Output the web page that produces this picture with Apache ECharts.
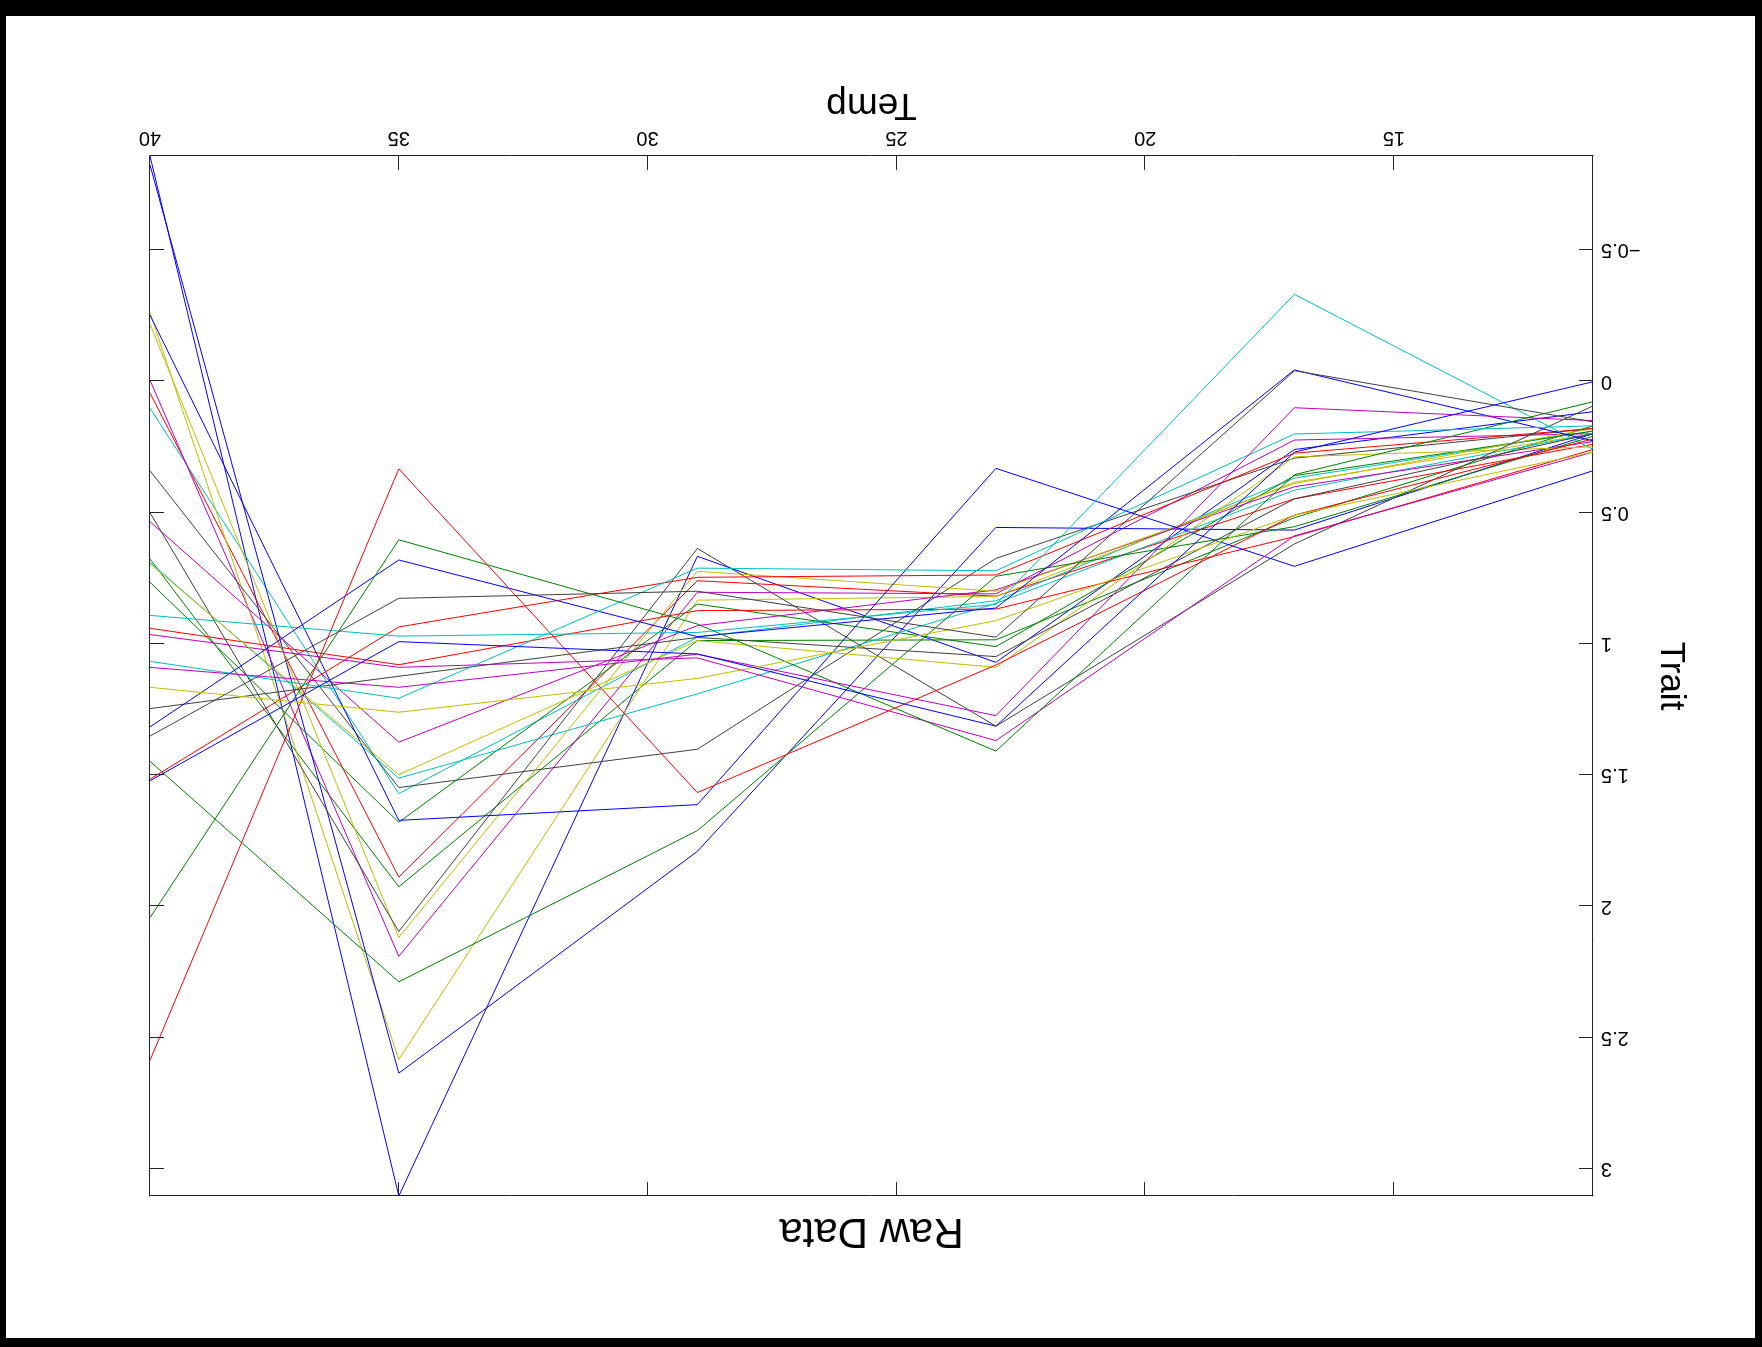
<!DOCTYPE html>
<html>
<head>
<meta charset="utf-8">
<script src="https://cdn.jsdelivr.net/npm/echarts@6/dist/echarts.min.js"></script>
<style>
  html, body { margin: 0; padding: 0; background: #000; width: 1762px; height: 1347px; overflow: hidden; }
  #frame { position: absolute; left: 6px; top: 16px; width: 1749px; height: 1322px; background: #fff; transform: rotate(180deg); }
  #chart { width: 1749px; height: 1322px; }
</style>
</head>
<body>
<div id="frame"><div id="chart"></div></div>
<script>
// Temperatures (x values)
const temps = [40, 35, 29, 23, 17, 11];

// Tick labels
const xTicks = [15, 20, 25, 30, 35, 40];
const yTicks = [-0.5, 0, 0.5, 1, 1.5, 2, 2.5, 3];

// Trait values per line, in the order of temps
const lineB1 = [-0.858, 3.104, 0.667, 1.071, 0.26, 0.116];
const lineG1 = [0.677, 1.926, 0.988, 0.985, 0.52, 0.17];
const lineR1 = [0.045, 1.889, 0.760, 0.819, 0.448, 0.24];
const lineC1 = [0.102, 1.571, 0.975, 0.836, 0.369, 0.19];
const lineM1 = [-0.004, 2.191, 0.804, 0.81, 0.224, 0.20];
const lineY1 = [-0.262, 2.584, 0.834, 0.82, 0.385, 0.20];
const lineK1 = [0.341, 1.548, 1.402, 0.675, 0.293, 0.18];
const lineB2 = [-0.824, 2.636, 1.791, 0.557, 0.567, 0.20];
const lineG2 = [0.766, 1.680, 0.849, 1.011, 0.36, 0.19];
const lineR2 = [0.941, 1.080, 0.874, 0.868, 0.592, 0.26];
const lineC2 = [0.69, 1.512, 1.191, 0.846, 0.415, 0.20];
const lineM2 = [0.535, 1.375, 0.931, 0.795, 0.402, 0.23];
const lineY2 = [-0.218, 2.119, 0.724, 0.80, 0.39, 0.18];
const lineK2 = [0.501, 2.096, 0.637, 1.314, 0.620, 0.094];
const lineB3 = [-0.252, 1.673, 1.613, 0.332, 0.705, 0.341];
const lineG3 = [1.448, 2.288, 1.712, 0.743, 0.554, 0.21];
const lineR3 = [1.516, 0.936, 0.747, 0.738, 0.274, 0.18];
const lineC3 = [0.892, 0.971, 0.957, 0.85, -0.331, 0.259];
const lineM3 = [0.965, 1.090, 1.054, 1.369, 0.589, 0.27];
const lineY3 = [0.695, 1.499, 0.988, 1.090, 0.288, 0.25];
const lineK3 = [1.247, 1.124, 0.976, 1.049, 0.448, 0.20];
const lineB4 = [1.317, 0.681, 0.973, 0.864, -0.043, 0.227];
const lineG4 = [2.044, 0.604, 0.925, 1.409, 0.356, 0.078];
const lineR4 = [2.587, 0.334, 1.567, 1.081, 0.510, 0.22];
const lineC4 = [1.067, 1.208, 0.712, 0.722, 0.201, 0.17];
const lineM4 = [1.090, 1.166, 1.04, 1.274, 0.101, 0.15];
const lineY4 = [1.166, 1.261, 1.132, 0.912, 0.510, 0.27];
const lineK4 = [1.352, 0.827, 0.800, 0.975, -0.040, 0.155];
const lineB5 = [1.522, 0.992, 1.039, 1.314, 0.27, 0.002];

const allLines = [
  lineB1, lineG1, lineR1, lineC1, lineM1, lineY1, lineK1,
  lineB2, lineG2, lineR2, lineC2, lineM2, lineY2, lineK2,
  lineB3, lineG3, lineR3, lineC3, lineM3, lineY3, lineK3,
  lineB4, lineG4, lineR4, lineC4, lineM4, lineY4, lineK4,
  lineB5
];

// Color cycle (b, g, r, c, m, y, k)
const colorCycle = ['#0000ff', '#008000', '#ff0000', '#00bfbf', '#bf00bf', '#bfbf00', '#404040'];

// Text
const titleText = 'Raw Data';
const xName = 'Temp';
const yName = 'Trait';

const FONT = '"Liberation Sans", Arial, Helvetica, sans-serif';
const AX = '#222222';

// Axis extents = data extents (tight axes)
const xMin = Math.min.apply(null, temps);
const xMax = Math.max.apply(null, temps);
const allVals = [].concat.apply([], allLines);
const yMin = Math.min.apply(null, allVals);
const yMax = Math.max.apply(null, allVals);

const chart = echarts.init(document.getElementById('chart'), null, { renderer: 'canvas' });

const series = allLines.map((vals, i) => ({
  type: 'line',
  name: 'Line ' + (i + 1),
  data: temps.map((t, j) => [t, vals[j]]),
  symbol: 'none',
  showSymbol: false,
  lineStyle: { width: 1, color: colorCycle[i % colorCycle.length] },
  itemStyle: { color: colorCycle[i % colorCycle.length] },
  animation: false,
  silent: true
}));

const fmt = v => String(Math.round(v * 10) / 10).replace('-', '\u2212');

function makeAxis(position, ticks, lo, hi, showLabels, extra) {
  return Object.assign({
    type: 'value',
    position: position,
    min: lo,
    max: hi,
    axisLine: { show: true, onZero: false, lineStyle: { color: AX, width: 1 } },
    axisTick: { show: true, inside: true, length: 14, customValues: ticks, lineStyle: { color: AX, width: 1 } },
    axisLabel: showLabels
      ? { show: true, customValues: ticks, fontFamily: FONT, fontSize: 20, color: '#000', margin: 8, formatter: fmt }
      : { show: false },
    splitLine: { show: false }
  }, extra || {});
}

chart.setOption({
  animation: false,
  backgroundColor: '#ffffff',
  grid: { left: 162, right: 144, top: 142, bottom: 140, containLabel: false },
  graphic: [{
    type: 'text',
    x: 883.5,
    y: 107,
    style: {
      text: titleText,
      font: 'normal 42px ' + FONT,
      fill: '#000',
      textAlign: 'center',
      textVerticalAlign: 'middle'
    }
  }],
  xAxis: [
    makeAxis('bottom', xTicks, xMin, xMax, true, {
      name: xName, nameLocation: 'middle', nameGap: 32,
      nameTextStyle: { fontFamily: FONT, fontSize: 37, color: '#000' }
    }),
    makeAxis('top', xTicks, xMin, xMax, false)
  ],
  yAxis: [
    makeAxis('left', yTicks, yMin, yMax, true, {
      name: yName, nameLocation: 'middle', nameGap: 60, nameRotate: 90,
      nameTextStyle: { fontFamily: FONT, fontSize: 35, color: '#000' }
    }),
    makeAxis('right', yTicks, yMin, yMax, false)
  ],
  series: series
});
</script>
</body>
</html>
